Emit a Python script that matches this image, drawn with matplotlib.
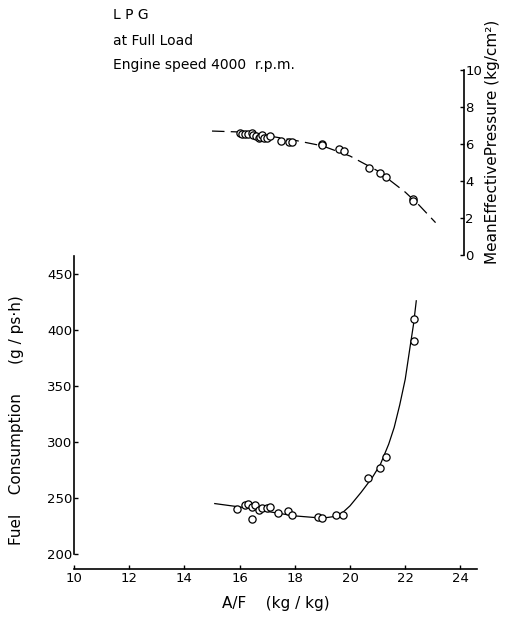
import numpy as np
import matplotlib
matplotlib.use("Agg")
import matplotlib.pyplot as plt

plt.rcParams['font.family'] = ['DejaVu Sans']

# Mean effective pressure (upper panel)
mep_af = [16.0, 16.1, 16.2, 16.3, 16.45, 16.5, 16.6, 16.7, 16.75, 16.8, 16.9, 17.0, 17.1,
          17.5, 17.8, 17.9, 19.0, 19.0, 19.6, 19.8, 20.7, 21.1, 21.3, 22.3, 22.3]
mep = [6.6, 6.55, 6.55, 6.55, 6.6, 6.5, 6.45, 6.3, 6.4, 6.5, 6.35, 6.3, 6.45,
       6.15, 6.1, 6.1, 6.0, 5.95, 5.75, 5.6, 4.7, 4.45, 4.2, 3.05, 2.9]
mep_curve_af = [15.0, 16.0, 17.0, 18.0, 19.0, 20.0, 21.0, 22.0, 22.5, 23.1]
mep_curve = [6.7, 6.65, 6.45, 6.2, 5.9, 5.35, 4.55, 3.4, 2.7, 1.75]

# Fuel consumption (lower panel)
fc_af = [15.9, 16.2, 16.3, 16.45, 16.55, 16.7, 16.8, 17.0, 17.1, 16.45,
         17.4, 17.75, 17.9, 18.85, 19.0, 19.5, 19.75, 20.65, 21.1, 21.3, 22.3, 22.3]
fc = [240, 244, 245, 242, 244, 239, 241, 241, 242, 231,
      237, 238, 235, 233, 232, 235, 235, 268, 277, 287, 390, 410]
fc_curve_af = [15.1, 16.0, 17.0, 18.0, 19.0, 19.6, 20.0, 20.4, 20.8, 21.1, 21.4,
               21.6, 21.8, 22.0, 22.17, 22.3, 22.4]
fc_curve = [245, 242, 238, 234, 232, 234, 243, 255, 268, 280, 298,
            313, 333, 356, 384, 405, 426]

W, H = 508, 622
fig = plt.figure(figsize=(W / 100, H / 100), dpi=100)

# lower axes: fuel consumption
ax = fig.add_axes([74 / W, (H - 569) / H, (477 - 74) / W, (569 - 256) / H])
ax.set_xlim(10, 24.6)
ax.set_ylim(186.6, 466)
ax.plot(fc_curve_af, fc_curve, color='black', lw=0.9, zorder=1)
ax.plot(fc_af, fc, 'o', mfc='white', mec='black', ms=5.2, mew=0.9, zorder=2)
for s in ['top', 'right']:
    ax.spines[s].set_visible(False)
ax.spines['left'].set_bounds(200, 466)
ax.spines['bottom'].set_bounds(10, 24.6)
ax.spines['left'].set_linewidth(1.2)
ax.spines['bottom'].set_linewidth(1.2)
ax.set_xticks(np.arange(10, 25, 2))
ax.set_yticks(np.arange(200, 451, 50))
ax.tick_params(axis='both', direction='in', length=3, width=1, labelsize=9.5, pad=2)
ax.tick_params(axis='y', pad=1)
ax.set_xlabel("A/F    (kg / kg)", fontsize=11, labelpad=8)
fig.text(17 / W, 1 - 420 / H, "Fuel    Consumption      (g / ps·h)",
         rotation=90, va='center', ha='center', fontsize=11)

# upper axes: mean effective pressure
ax2 = fig.add_axes([74 / W, (H - 255) / H, (464 - 74) / W, (255 - 70) / H])
ax2.set_xlim(10, 10 + 390 / 27.6)
ax2.set_ylim(0, 10)
ax2.plot(mep_curve_af, mep_curve, color='black', lw=0.9, dashes=(10, 5), zorder=1)
ax2.plot(mep_af, mep, 'o', mfc='white', mec='black', ms=5.2, mew=0.9, zorder=2)
for s in ['top', 'left', 'bottom']:
    ax2.spines[s].set_visible(False)
ax2.spines['right'].set_linewidth(1.2)
ax2.set_xticks([])
ax2.yaxis.tick_right()
ax2.set_yticks(np.arange(0, 11, 2))
ax2.tick_params(axis='y', direction='in', length=3, width=1, labelsize=9.5, pad=1)
ax2.patch.set_alpha(0)
fig.text(492 / W, 1 - 142 / H, "MeanEffectivePressure (kg/cm²)",
         rotation=90, va='center', ha='center', fontsize=11)

# header text
fig.text(113 / W, 1 - 15 / H, "L P G", va='center', fontsize=10)
fig.text(113 / W, 1 - 41 / H, "at Full Load", va='center', fontsize=10)
fig.text(113 / W, 1 - 65 / H, "Engine speed 4000  r.p.m.", va='center', fontsize=10)

fig.savefig("out.png", dpi=100)
